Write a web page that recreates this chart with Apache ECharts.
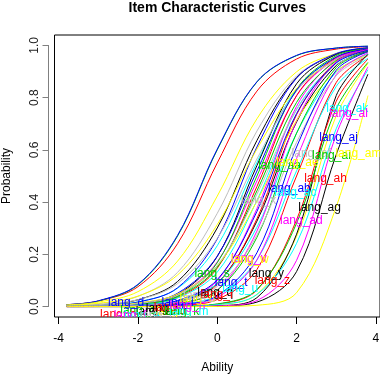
<!DOCTYPE html>
<html><head><meta charset="utf-8">
<script src="https://cdn.jsdelivr.net/npm/echarts@6/dist/echarts.min.js"></script>
<style>html,body{margin:0;padding:0;background:#fff}#c{width:380px;height:376px}</style>
</head><body><div id="c"></div>
<script>
// Ability grid on which each curve's probability was read
const theta = [-3.8, -3, -2, -1, 0, 1, 2, 3, 3.8];

// Probability of each item at the ability grid
const lang_a  = [0.002, 0.0064, 0.026, 0.096, 0.301, 0.636, 0.877, 0.966, 0.989];
const lang_b  = [0.0072, 0.021, 0.076, 0.241, 0.55, 0.825, 0.948, 0.986, 0.995];
const lang_c  = [0.0072, 0.021, 0.083, 0.270, 0.600, 0.860, 0.961, 0.990, 0.997];
const lang_d  = [0.0074, 0.022, 0.085, 0.273, 0.603, 0.861, 0.962, 0.990, 0.997];
const lang_e  = [0.0015, 0.0046, 0.018, 0.070, 0.233, 0.552, 0.833, 0.953, 0.984];
const lang_f  = [0.0007, 0.0023, 0.010, 0.044, 0.171, 0.481, 0.807, 0.949, 0.984];
const lang_g  = [0.0063, 0.017, 0.057, 0.174, 0.423, 0.719, 0.899, 0.969, 0.988];
const lang_h  = [0.004, 0.011, 0.039, 0.131, 0.357, 0.672, 0.883, 0.965, 0.987];
const lang_i  = [0.0005, 0.002, 0.0096, 0.046, 0.192, 0.540, 0.853, 0.966, 0.990];
const lang_j  = [0.0004, 0.0014, 0.007, 0.034, 0.147, 0.460, 0.808, 0.954, 0.987];
const lang_k  = [0.0005, 0.0017, 0.008, 0.039, 0.168, 0.5, 0.832, 0.961, 0.989];
const lang_l  = [0.0012, 0.0039, 0.017, 0.072, 0.259, 0.611, 0.875, 0.969, 0.991];
const lang_m  = [0.0005, 0.0017, 0.0075, 0.033, 0.132, 0.406, 0.755, 0.933, 0.979];
const lang_n  = [0.0002, 0.0007, 0.0037, 0.020, 0.099, 0.375, 0.767, 0.947, 0.986];
const lang_o  = [0.0048, 0.0124, 0.040, 0.121, 0.314, 0.603, 0.835, 0.944, 0.978];
const lang_p  = [0.0025, 0.0071, 0.026, 0.088, 0.261, 0.565, 0.826, 0.946, 0.980];
const lang_q  = [0.0002, 0.0008, 0.004, 0.0195, 0.089, 0.327, 0.707, 0.923, 0.977];
const lang_r  = [0.0001, 0.0006, 0.0031, 0.0166, 0.085, 0.336, 0.735, 0.938, 0.983];
const lang_s  = [0.0006, 0.002, 0.0088, 0.038, 0.151, 0.443, 0.782, 0.942, 0.982];
const lang_t  = [0.0008, 0.0027, 0.0118, 0.051, 0.193, 0.519, 0.829, 0.956, 0.986];
const lang_u  = [0.0003, 0.0011, 0.0048, 0.021, 0.089, 0.304, 0.664, 0.898, 0.967];
const lang_v  = [0.0001, 0.0003, 0.0018, 0.011, 0.063, 0.289, 0.711, 0.937, 0.984];
const lang_w  = [0.0013, 0.0037, 0.0135, 0.048, 0.156, 0.404, 0.713, 0.901, 0.963];
const lang_x  = [0.0009, 0.0028, 0.011, 0.044, 0.157, 0.430, 0.754, 0.926, 0.974];
const lang_y  = [0, 0, 0, 0.0002, 0.0019, 0.017, 0.134, 0.582, 0.890];
const lang_z  = [0, 0.0001, 0.0007, 0.0045, 0.027, 0.142, 0.5, 0.858, 0.962];
const lang_aa = [0.0001, 0.0004, 0.0022, 0.012, 0.062, 0.265, 0.664, 0.915, 0.977];
const lang_ab = [0.0003, 0.001, 0.0047, 0.023, 0.103, 0.364, 0.739, 0.933, 0.981];
const lang_ac = [0.0001, 0.0004, 0.0018, 0.0088, 0.042, 0.179, 0.520, 0.843, 0.951];
const lang_ad = [0, 0.0002, 0.001, 0.0059, 0.035, 0.178, 0.567, 0.888, 0.971];
const lang_ae = [0, 0, 0.0001, 0.0009, 0.0067, 0.047, 0.269, 0.731, 0.931];
const lang_af = [0.0003, 0.0009, 0.0042, 0.018, 0.077, 0.273, 0.629, 0.884, 0.962];
const lang_ag = [0, 0, 0, 0.0003, 0.003, 0.034, 0.277, 0.808, 0.966];
const lang_ah = [0, 0, 0.0002, 0.0012, 0.009, 0.063, 0.332, 0.786, 0.948];
const lang_ai = [0, 0, 0.0002, 0.0016, 0.010, 0.065, 0.319, 0.758, 0.935];
const lang_aj = [0.00005, 0.0002, 0.0012, 0.007, 0.041, 0.206, 0.611, 0.905, 0.976];
const lang_ak = [0, 0, 0.0002, 0.0011, 0.0071, 0.046, 0.242, 0.681, 0.907];
const lang_al = [0, 0, 0, 0.0003, 0.0026, 0.023, 0.177, 0.659, 0.918];
const lang_am = [0, 0, 0, 0, 0.0005, 0.005, 0.053, 0.382, 0.808];

const itemNames = ['lang_a','lang_b','lang_c','lang_d','lang_e','lang_f','lang_g','lang_h','lang_i','lang_j','lang_k','lang_l','lang_m','lang_n','lang_o','lang_p','lang_q','lang_r','lang_s','lang_t','lang_u','lang_v','lang_w','lang_x','lang_y','lang_z','lang_aa','lang_ab','lang_ac','lang_ad','lang_ae','lang_af','lang_ag','lang_ah','lang_ai','lang_aj','lang_ak','lang_al','lang_am'];
const curves = [lang_a,lang_b,lang_c,lang_d,lang_e,lang_f,lang_g,lang_h,lang_i,lang_j,lang_k,lang_l,lang_m,lang_n,lang_o,lang_p,lang_q,lang_r,lang_s,lang_t,lang_u,lang_v,lang_w,lang_x,lang_y,lang_z,lang_aa,lang_ab,lang_ac,lang_ad,lang_ae,lang_af,lang_ag,lang_ah,lang_ai,lang_aj,lang_ak,lang_al,lang_am];

// Where each item's name label sits (ability, probability)
const labelTheta = [-1.6,-2.5,-2.0,-2.3,-1.9,-2.2,-1.1,-1.5,-1.4,-1.2,-0.9,-1.0,-0.72,-0.75,-0.5,-0.4,-0.05,0.0,-0.13,0.35,0.58,0.80,0.82,1.04,1.24,1.39,1.57,1.82,1.97,2.12,2.02,2.37,2.58,2.73,2.88,3.06,3.28,3.31,3.56];
const labelProb  = [-0.02,-0.03,-0.015,0.015,-0.035,-0.035,-0.02,-0.035,-0.01,-0.005,-0.02,0.015,-0.02,0.005,0.03,0.04,0.055,0.045,0.125,0.09,0.07,0.185,0.18,0.405,0.126,0.10,0.54,0.45,0.435,0.328,0.55,0.585,0.378,0.49,0.576,0.645,0.756,0.737,0.584];

const xTicks = [-4, -2, 0, 2, 4];

const palette = ['#000000','#FF0000','#00CD00','#0000FF','#00FFFF','#FF00FF','#FFFF00','#BEBEBE'];
const FONT = '"Liberation Sans", Arial, sans-serif';

const GT = 35, GB = 59, GL = 54.5, GR = 0;
const yMin = -0.04, yMax = 1.04, xMin = -4.104, xMax = 4.104;
const plotH = 376 - GT - GB;
const pad = plotH * (0 - yMin) / (yMax - yMin);

const series = curves.map((c, i) => ({
  type: 'line', xAxisIndex: 0, yAxisIndex: 0,
  data: theta.map((t, k) => [t, c[k]]),
  showSymbol: false, symbol: 'none', smooth: 0.35, silent: true,
  lineStyle: { width: 1, color: palette[i % 8] },
  itemStyle: { color: palette[i % 8] }, z: 2
}));

series.push({
  type: 'custom', xAxisIndex: 0, yAxisIndex: 0, clip: true, silent: true, z: 5,
  data: itemNames.map((n, i) => [labelTheta[i], labelProb[i], i]),
  renderItem: function (params, api) {
    const p = api.coord([api.value(0), api.value(1)]);
    const i = api.value(2);
    return { type: 'text', x: p[0], y: p[1],
      style: { text: itemNames[i], fill: palette[i % 8], font: '12px ' + FONT, align: 'center', verticalAlign: 'middle' } };
  }
});

const chart = echarts.init(document.getElementById('c'), null, { renderer: 'canvas' });
chart.setOption({
  animation: false,
  backgroundColor: '#fff',
  title: { text: 'Item Characteristic Curves', left: 217.25, top: 1, padding: 0, textAlign: 'center',
    textStyle: { fontSize: 14, fontWeight: 'bold', fontFamily: FONT, color: '#000' } },
  grid: [
    { left: GL, right: GR, top: GT, bottom: GB, show: true, borderColor: '#000', borderWidth: 1,
      backgroundColor: 'transparent', containLabel: false, outerBoundsMode: 'none' },
    { left: GL, right: GR, top: GT + pad, bottom: GB + pad, show: false, containLabel: false, outerBoundsMode: 'none' }
  ],
  xAxis: [
    { gridIndex: 0, type: 'value', min: xMin, max: xMax,
      axisLine: { show: false, onZero: false },
      axisTick: { show: true, length: 7, customValues: xTicks, lineStyle: { color: '#000' } },
      axisLabel: { customValues: xTicks, fontSize: 12, fontFamily: FONT, color: '#000', margin: 16 },
      splitLine: { show: false },
      name: 'Ability', nameLocation: 'middle', nameGap: 45,
      nameTextStyle: { fontSize: 12, fontFamily: FONT, color: '#000' } },
    { gridIndex: 1, type: 'value', min: xMin, max: xMax, show: false, axisLine: { onZero: false } }
  ],
  yAxis: [
    { gridIndex: 0, type: 'value', min: yMin, max: yMax, show: false, axisLine: { onZero: false } },
    { gridIndex: 1, type: 'value', min: 0, max: 1, interval: 0.2, offset: 6,
      axisLine: { show: true, onZero: false, lineStyle: { color: '#808080' } },
      axisTick: { show: true, length: 6, lineStyle: { color: '#808080' } },
      axisLabel: { rotate: 90, fontSize: 12, fontFamily: FONT, color: '#222', margin: 8,
        formatter: v => v.toFixed(1) },
      splitLine: { show: false },
      name: 'Probability', nameLocation: 'middle', nameGap: 36,
      nameTextStyle: { fontSize: 12, fontFamily: FONT, color: '#000' } }
  ],
  series: series
});
</script></body></html>
